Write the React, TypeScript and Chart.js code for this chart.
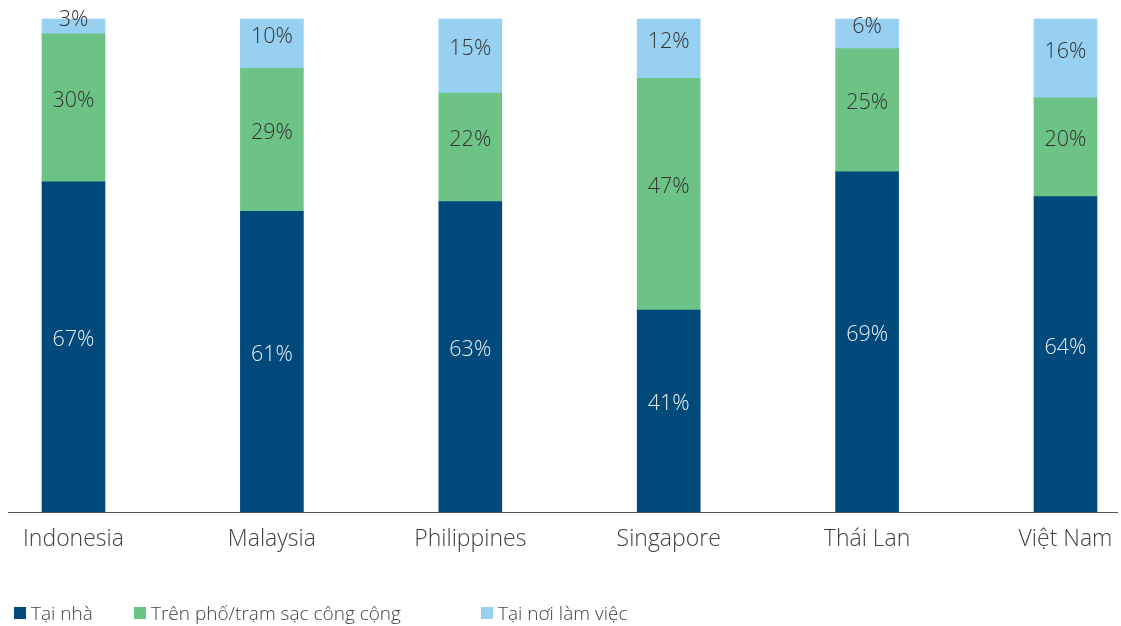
import React, { useEffect, useRef } from "react";
import { Chart, registerables } from "chart.js";

Chart.register(...registerables);

const categories = ["Indonesia", "Malaysia", "Philippines", "Singapore", "Thái Lan", "Việt Nam"];
const atHome = [67, 61, 63, 41, 69, 64];
const publicCharging = [30, 29, 22, 47, 25, 20];
const atWork = [3, 10, 15, 12, 6, 16];
const seriesLabels = ["Tại nhà", "Trên phố/trạm sạc công cộng", "Tại nơi làm việc"];
const seriesColors = ["#00497B", "#6DC386", "#97D0F0"];
const valueLabelColors = ["#E8EEF3", "#333333", "#333333"];

const FONT = "'Open Sans', 'Noto Sans', sans-serif";

const valueLabelPlugin = {
  id: "valueLabels",
  afterDatasetsDraw(chart: any) {
    const { ctx, chartArea } = chart;
    ctx.save();
    ctx.font = `300 21.5px ${FONT}`;
    ctx.textAlign = "center";
    ctx.textBaseline = "middle";
    chart.data.datasets.forEach((ds: any, di: number) => {
      const meta = chart.getDatasetMeta(di);
      meta.data.forEach((el: any, i: number) => {
        const { x, y, base } = el.getProps(["x", "y", "base"], true);
        let cy = (y + base) / 2 - 7;
        if (cy < chartArea.top + 1) cy = chartArea.top + 1;
        ctx.fillStyle = valueLabelColors[di];
        ctx.fillText(`${ds.data[i]}%`, x, cy);
      });
    });
    ctx.restore();
  },
};

const baselinePlugin = {
  id: "baseline",
  afterDatasetsDraw(chart: any) {
    const { ctx, chartArea, width } = chart;
    ctx.save();
    ctx.strokeStyle = "#555555";
    ctx.lineWidth = 1;
    ctx.beginPath();
    ctx.moveTo(8, Math.round(chartArea.bottom) + 0.5);
    ctx.lineTo(width - 3, Math.round(chartArea.bottom) + 0.5);
    ctx.stroke();
    ctx.restore();
  },
};

export default function App() {
  const ref = useRef<HTMLCanvasElement | null>(null);

  useEffect(() => {
    if (!ref.current) return;
    const series = [atHome, publicCharging, atWork];
    const chart = new Chart(ref.current, {
      type: "bar",
      data: {
        labels: categories,
        datasets: series.map((d, i) => ({
          label: seriesLabels[i],
          data: d,
          backgroundColor: seriesColors[i],
          borderWidth: 0,
          barThickness: 63,
          clip: false as any,
        })),
      },
      options: {
        animation: false,
        responsive: false,
        maintainAspectRatio: false,
        layout: { padding: { left: 73.5, right: 55.5, top: 19, bottom: 68 } },
        plugins: {
          legend: { display: false },
          tooltip: { enabled: false },
        },
        scales: {
          x: {
            stacked: true,
            offset: false,
            grid: { display: false },
            border: { display: false },
            ticks: {
              color: "#404040",
              padding: 5,
              font: { family: FONT, size: 23, weight: 300 as any },
              maxRotation: 0,
              autoSkip: false,
            },
          },
          y: {
            stacked: true,
            display: false,
            min: 0,
            max: 100,
          },
        },
      },
      plugins: [valueLabelPlugin, baselinePlugin],
    });
    return () => chart.destroy();
  }, []);

  const legendLeft = [14, 134, 481];

  return (
    <div style={{ position: "absolute", left: 0, top: 0, width: 1121, height: 626, background: "#fff" }}>
      <canvas ref={ref} width={1121} height={626} style={{ display: "block" }} />
      {seriesLabels.map((l, i) => (
        <div
          key={l}
          style={{
            position: "absolute",
            left: legendLeft[i],
            top: 601,
            height: 24,
            display: "flex",
            alignItems: "center",
            fontFamily: FONT,
            fontWeight: 300,
            fontSize: 19,
            color: "#404040",
            whiteSpace: "nowrap",
          }}
        >
          <span style={{ display: "inline-block", width: 12, height: 12, background: seriesColors[i], marginRight: 5 }} />
          {l}
        </div>
      ))}
    </div>
  );
}
